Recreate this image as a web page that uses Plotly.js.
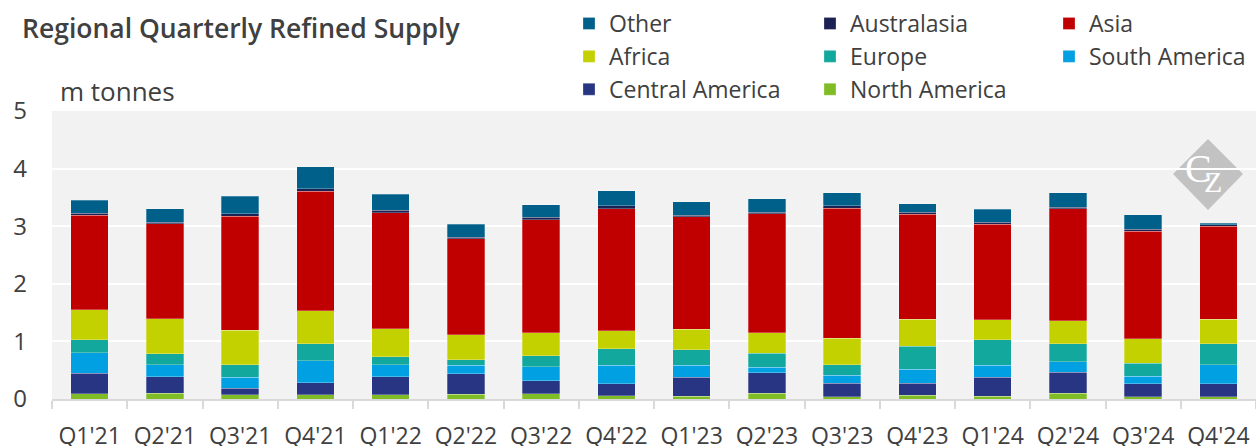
<!DOCTYPE html>
<html>
<head>
<meta charset="utf-8">
<script src="https://cdn.plot.ly/plotly-3.0.1.min.js"></script>
<style>html,body{margin:0;padding:0;background:#fff;}#chart{width:1256px;height:446px;}</style>
</head>
<body>
<div id="chart"></div>
<script>
var quarters = ["Q1'21","Q2'21","Q3'21","Q4'21","Q1'22","Q2'22","Q3'22","Q4'22","Q1'23","Q2'23","Q3'23","Q4'23","Q1'24","Q2'24","Q3'24","Q4'24"];
var northAmerica   = [0.087,0.099,0.075,0.070,0.070,0.081,0.087,0.058,0.052,0.104,0.041,0.064,0.052,0.104,0.041,0.041];
var centralAmerica = [0.359,0.289,0.111,0.214,0.318,0.360,0.232,0.209,0.325,0.354,0.231,0.208,0.325,0.360,0.226,0.220];
var southAmerica   = [0.360,0.203,0.191,0.377,0.203,0.145,0.243,0.319,0.209,0.093,0.140,0.244,0.209,0.185,0.127,0.336];
var europe         = [0.220,0.192,0.214,0.296,0.145,0.092,0.192,0.289,0.272,0.243,0.179,0.400,0.446,0.313,0.226,0.365];
var africa         = [0.522,0.614,0.603,0.573,0.481,0.435,0.394,0.313,0.354,0.354,0.464,0.470,0.342,0.395,0.429,0.424];
var asia           = [1.646,1.646,1.977,2.076,2.018,1.670,1.965,2.116,1.953,2.064,2.255,1.820,1.664,1.942,1.861,1.611];
var australasia    = [0.035,0.029,0.041,0.040,0.040,0.029,0.041,0.047,0.029,0.029,0.041,0.035,0.034,0.029,0.041,0.029];
var other          = [0.220,0.232,0.307,0.383,0.284,0.226,0.220,0.261,0.232,0.237,0.226,0.145,0.221,0.249,0.249,0.029];
var yTicks = [0,1,2,3,4,5];

var FONT = "Open Sans, Noto Sans, sans-serif";
var SERIF = "Liberation Serif, DejaVu Serif, serif";
var TXT = "#404040";

function bar(name, vals, color, leg) {
  return {
    type: "bar", name: name, x: quarters, y: vals,
    marker: {color: color, line: {color: "rgba(255,255,255,0.45)", width: 0.6}},
    legend: leg, legendgroup: name
  };
}

var data = [
  bar("North America", northAmerica, "#80bc26", "legend2"),
  bar("Central America", centralAmerica, "#283583", "legend"),
  bar("South America", southAmerica, "#00a0e2", "legend3"),
  bar("Europe", europe, "#12a89d", "legend2"),
  bar("Africa", africa, "#c4d100", "legend"),
  bar("Asia", asia, "#c00000", "legend3"),
  bar("Australasia", australasia, "#1b2152", "legend2"),
  bar("Other", other, "#006089", "legend")
];

function leg(px) {
  return {
    xref: "container", yref: "container",
    x: px / 1256, xanchor: "left",
    y: 1 - 2 / 446, yanchor: "top",
    orientation: "v", traceorder: "reversed",
    tracegroupgap: 0, bgcolor: "rgba(0,0,0,0)",
    font: {family: FONT, size: 23, color: TXT},
    itemclick: false
  };
}

var layout = {
  width: 1256, height: 446,
  margin: {l: 52, r: 0, t: 111, b: 47, autoexpand: false},
  paper_bgcolor: "#ffffff",
  plot_bgcolor: "#f2f2f2",
  barmode: "stack",
  bargap: 0.5,
  title: {
    text: "Regional Quarterly Refined Supply",
    xref: "container", yref: "container",
    x: 22 / 1256, xanchor: "left",
    y: 1 - 29 / 446, yanchor: "middle",
    font: {family: FONT, size: 26.5, weight: 600, color: TXT}
  },
  xaxis: {
    type: "category",
    tickson: "boundaries",
    ticks: "outside", ticklen: 8, tickwidth: 2, tickcolor: "#d9d9d9",
    showline: true, linecolor: "#d9d9d9", linewidth: 2,
    showgrid: false,
    tickfont: {family: FONT, size: 23, color: TXT},
    ticklabelstandoff: 15,
    fixedrange: true
  },
  yaxis: {
    range: [0, 5],
    tickvals: yTicks,
    ticktext: yTicks.map(String),
    showgrid: true, gridcolor: "#ffffff", gridwidth: 2,
    zeroline: false,
    ticks: "",
    tickfont: {family: FONT, size: 24, color: TXT},
    ticklabelstandoff: 24,
    fixedrange: true
  },
  legend: leg(569),
  legend2: leg(810),
  legend3: leg(1049),
  showlegend: true,
  annotations: [
    {
      text: "m tonnes", xref: "paper", yref: "paper",
      x: 6 / 1204, xanchor: "left",
      y: 1 + 20 / 287.7, yanchor: "middle",
      showarrow: false,
      font: {family: FONT, size: 26, color: TXT}
    },
    {
      text: "C", xref: "paper", yref: "paper",
      x: (1198 - 52) / 1204, y: (398.7 - 168) / 287.7,
      xanchor: "center", yanchor: "middle", showarrow: false,
      font: {family: SERIF, size: 40, color: "#ffffff"}
    },
    {
      text: "Z", xref: "paper", yref: "paper",
      x: (1213 - 52) / 1204, y: (398.7 - 181) / 287.7,
      xanchor: "center", yanchor: "middle", showarrow: false,
      font: {family: SERIF, size: 30, color: "#ffffff"}
    }
  ],
  shapes: [
    {
      type: "path", xref: "paper", yref: "paper", layer: "below",
      path: "M " + ((1208 - 52) / 1204) + " " + ((398.7 - 139) / 287.7) +
            " L " + ((1243 - 52) / 1204) + " " + ((398.7 - 174) / 287.7) +
            " L " + ((1208 - 52) / 1204) + " " + ((398.7 - 210) / 287.7) +
            " L " + ((1173 - 52) / 1204) + " " + ((398.7 - 174) / 287.7) + " Z",
      fillcolor: "#c2c2c2", line: {width: 0}
    }
  ]
};

Plotly.newPlot("chart", data, layout, {displayModeBar: false, staticPlot: true});
</script>
</body>
</html>
